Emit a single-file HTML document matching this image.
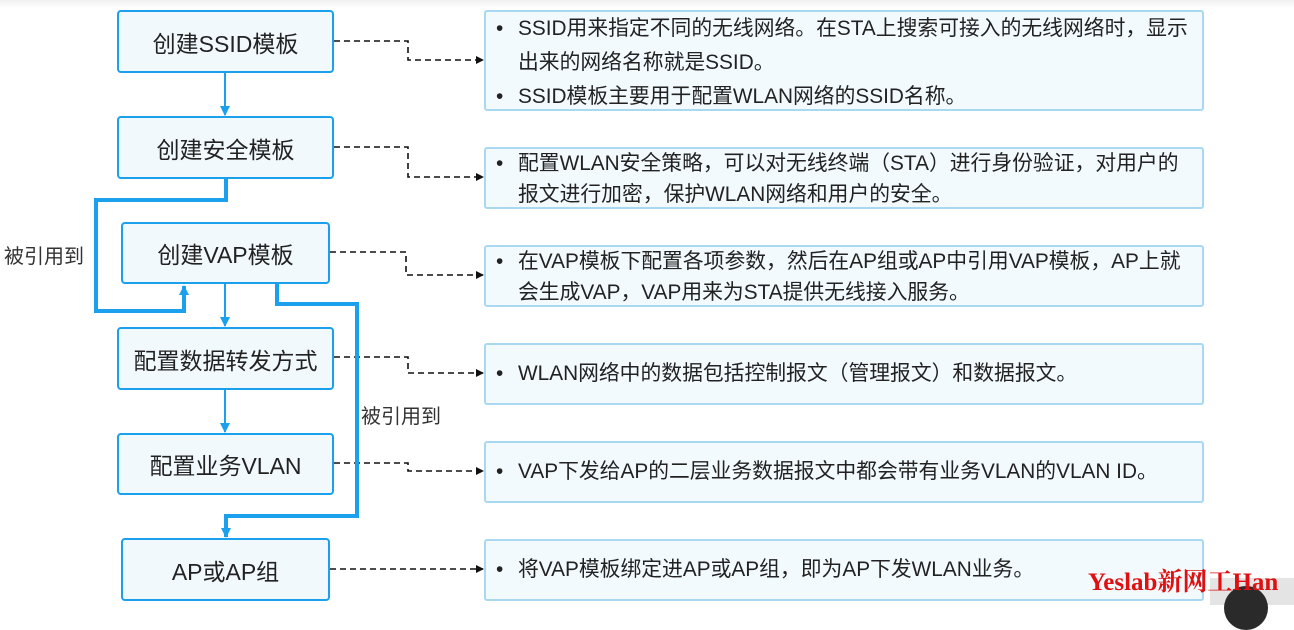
<!DOCTYPE html>
<html><head><meta charset="utf-8"><style>
body{margin:0;width:1294px;height:605px;background:#fff;position:relative;overflow:hidden;font-family:"Liberation Sans","Noto Sans CJK SC",sans-serif;color:#222}
.lb{position:absolute;border:2px solid #1aa0ec;border-radius:4px;background:#f2f9fd;box-sizing:border-box;display:flex;align-items:center;justify-content:center;font-size:23px;color:#222}
.rb{position:absolute;left:484px;width:720px;border:2px solid #a9d9f1;border-radius:3px;background:#f2fafe;box-sizing:border-box;font-size:20.8px;line-height:34px;padding:0 0 0 32px;white-space:nowrap}
.rb div{position:relative}
.rb div.b::before{content:"•";position:absolute;left:-22px}
.lab{position:absolute;font-size:20px;color:#333}
</style></head><body>
<div style="position:absolute;left:0;top:0;width:1294px;height:8px;background:linear-gradient(#f0f0f0,#fff)"></div>
<div class="lb" style="left:117px;top:10px;width:217px;height:63px">创建SSID模板</div>
<div class="lb" style="left:117px;top:116px;width:217px;height:63px">创建安全模板</div>
<div class="lb" style="left:121px;top:222px;width:209px;height:62px">创建VAP模板</div>
<div class="lb" style="left:117px;top:327px;width:217px;height:63px">配置数据转发方式</div>
<div class="lb" style="left:117px;top:433px;width:217px;height:62px">配置业务VLAN</div>
<div class="lb" style="left:121px;top:538px;width:209px;height:63px">AP或AP组</div>

<div class="rb" style="top:10px;height:101px;padding-top:0px"><div class="b">SSID用来指定不同的无线网络。在STA上搜索可接入的无线网络时，显示</div><div>出来的网络名称就是SSID。</div><div class="b">SSID模板主要用于配置WLAN网络的SSID名称。</div></div>
<div class="rb" style="top:147px;height:62px;line-height:31px"><div class="b" style="top:-1px">配置WLAN安全策略，可以对无线终端（STA）进行身份验证，对用户的</div><div style="top:-1px">报文进行加密，保护WLAN网络和用户的安全。</div></div>
<div class="rb" style="top:245px;height:62px;line-height:31px"><div class="b" style="top:-1px">在VAP模板下配置各项参数，然后在AP组或AP中引用VAP模板，AP上就</div><div style="top:-1px">会生成VAP，VAP用来为STA提供无线接入服务。</div></div>
<div class="rb" style="top:343px;height:62px;line-height:58px"><div class="b">WLAN网络中的数据包括控制报文（管理报文）和数据报文。</div></div>
<div class="rb" style="top:441px;height:62px;line-height:58px"><div class="b">VAP下发给AP的二层业务数据报文中都会带有业务VLAN的VLAN ID。</div></div>
<div class="rb" style="top:539px;height:62px;line-height:58px"><div class="b">将VAP模板绑定进AP或AP组，即为AP下发WLAN业务。</div></div>

<div class="lab" style="left:4px;top:240px">被引用到</div>
<div class="lab" style="left:361px;top:400px">被引用到</div>

<svg width="1294" height="605" style="position:absolute;left:0;top:0">
<defs>
<marker id="ab" markerWidth="8" markerHeight="8" refX="7" refY="4" orient="auto" markerUnits="userSpaceOnUse"><path d="M0,0 L8,4 L0,8z" fill="#111"/></marker>
<marker id="bl" markerWidth="10" markerHeight="10" refX="9" refY="5" orient="auto" markerUnits="userSpaceOnUse"><path d="M0,0 L10,5 L0,10z" fill="#1aa0ec"/></marker>
</defs>
<g fill="none" stroke="#111" stroke-width="1.6" stroke-dasharray="6,4" marker-end="url(#ab)">
<path d="M334,41 H408 V60 H483"/>
<path d="M334,147 H408 V177 H483"/>
<path d="M330,252 H406 V275 H483"/>
<path d="M334,357 H408 V373 H483"/>
<path d="M334,463 H408 V471 H483"/>
<path d="M330,569 H483"/>
</g>
<g fill="none" stroke="#1aa0ec" stroke-width="2" marker-end="url(#bl)">
<path d="M225,73 V115"/>
<path d="M225,284 V326"/>
<path d="M225,390 V432"/>
</g>
<g fill="none" stroke="#1aa0ec" stroke-width="4" marker-end="url(#bl)">
<path d="M226,179 V200 H96 V311 H184 V286"/>
<path d="M277,284 V304 H357 V516 H226 V537"/>
</g>
</svg>
<div style="position:absolute;left:1210px;top:578px;width:84px;height:27px;background:#e4e4e4"></div>
<div style="position:absolute;left:1224px;top:586px;width:44px;height:44px;border-radius:50%;background:#2a2a2a"></div>
<div style="position:absolute;left:1088px;top:562px;font-family:'Liberation Serif','Noto Serif CJK SC',serif;font-weight:bold;color:#e01010;font-size:25px;white-space:nowrap">Yeslab新网工Han</div>
</body></html>
